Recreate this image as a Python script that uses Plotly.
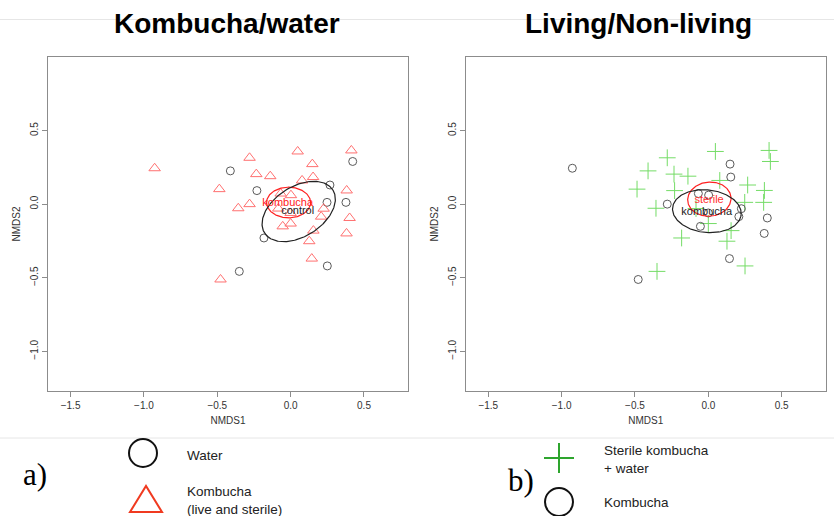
import numpy as np
import plotly.graph_objects as go

# ---------------- data (NMDS coordinates) ----------------
water_x = [-0.411, 0.423, 0.268, -0.23, 0.248, 0.377, -0.182, -0.35, 0.25]
water_y = [0.226, 0.29, 0.13, 0.092, 0.012, 0.012, -0.23, -0.457, -0.42]

sterile_x = [-0.28, 0.048, 0.414, -0.234, -0.139, 0.078, -0.486, 0.382, -0.357, -0.084, 0.0, 0.155, 0.127]
sterile_y = [0.315, 0.358, 0.365, 0.204, 0.19, 0.161, 0.102, 0.093, -0.028, -0.03, -0.132, -0.18, -0.252]

live_x = [-0.927, 0.148, 0.153, -0.068, 0.002, -0.28, 0.225, 0.208, 0.402, -0.054, 0.381, 0.144, -0.478, 0.0]
live_y = [0.244, 0.272, 0.184, 0.072, 0.061, 0.0, -0.031, -0.085, -0.094, -0.151, -0.199, -0.37, -0.512, -0.06]

# ellipses: centre x, centre y, semi-axis a, semi-axis b, angle (deg)
ell_a_kombucha = [-0.014, 0.011, 0.15, 0.104, 0]
ell_a_control = [0.055, -0.05, 0.275, 0.17, 32]
ell_b_sterile = [0.007, 0.034, 0.148, 0.116, 5]
ell_b_kombucha = [-0.01, -0.048, 0.235, 0.145, -6]

x_ticks = [-1.5, -1.0, -0.5, 0.0, 0.5]
y_ticks = [-1.0, -0.5, 0.0, 0.5]
x_range = [-1.654, 0.80]
y_range = [-1.27, 1.0]

titles = ["Kombucha/water", "Living/Non-living"]

W, H = 834, 516
FONT = "Liberation Sans, Arial, sans-serif"


def ellipse(params, n=200):
    cx, cy, a, b, ang = params
    t = np.linspace(0, 2 * np.pi, n)
    th = np.deg2rad(ang)
    x = cx + a * np.cos(t) * np.cos(th) - b * np.sin(t) * np.sin(th)
    y = cy + a * np.cos(t) * np.sin(th) + b * np.sin(t) * np.cos(th)
    return x, y


fig = go.Figure()

circ_col = "#5a5a5a"
tri_col = "#ff7070"
plus_col = "#74dc66"

# ---- panel a ----
fig.add_trace(go.Scatter(x=water_x, y=water_y, mode="markers", xaxis="x", yaxis="y",
                         marker=dict(symbol="circle-open", size=8, color=circ_col, line=dict(width=1))))
fig.add_trace(go.Scatter(x=sterile_x + live_x, y=sterile_y + live_y, mode="markers", xaxis="x", yaxis="y",
                         marker=dict(symbol="triangle-up-open", size=10, color=tri_col, line=dict(width=1))))
ex, ey = ellipse(ell_a_kombucha)
fig.add_trace(go.Scatter(x=ex, y=ey, mode="lines", line=dict(color="#ff2020", width=1.2), xaxis="x", yaxis="y"))
ex, ey = ellipse(ell_a_control)
fig.add_trace(go.Scatter(x=ex, y=ey, mode="lines", line=dict(color="#222222", width=1.2), xaxis="x", yaxis="y"))
fig.add_trace(go.Scatter(x=[ell_a_kombucha[0] - 0.006], y=[ell_a_kombucha[1] - 0.004], mode="text", text=["kombucha"],
                         textfont=dict(color="#ff2020", size=11, family=FONT), xaxis="x", yaxis="y"))
fig.add_trace(go.Scatter(x=[ell_a_control[0] - 0.007], y=[ell_a_control[1] + 0.005], mode="text", text=["control"],
                         textfont=dict(color="#222222", size=11, family=FONT), xaxis="x", yaxis="y"))

# ---- panel b ----
fig.add_trace(go.Scatter(x=water_x + sterile_x, y=water_y + sterile_y, mode="markers", xaxis="x2", yaxis="y2",
                         marker=dict(symbol="cross-thin-open", size=12, color=plus_col, line=dict(width=1, color=plus_col))))
fig.add_trace(go.Scatter(x=live_x, y=live_y, mode="markers", xaxis="x2", yaxis="y2",
                         marker=dict(symbol="circle-open", size=8, color=circ_col, line=dict(width=1))))
ex, ey = ellipse(ell_b_sterile)
fig.add_trace(go.Scatter(x=ex, y=ey, mode="lines", line=dict(color="#ff2020", width=1.2), xaxis="x2", yaxis="y2"))
ex, ey = ellipse(ell_b_kombucha)
fig.add_trace(go.Scatter(x=ex, y=ey, mode="lines", line=dict(color="#222222", width=1.2), xaxis="x2", yaxis="y2"))
fig.add_trace(go.Scatter(x=[ell_b_sterile[0] - 0.002], y=[ell_b_sterile[1] - 0.007], mode="text", text=["sterile"],
                         textfont=dict(color="#ff3030", size=11, family=FONT), xaxis="x2", yaxis="y2"))
fig.add_trace(go.Scatter(x=[ell_b_kombucha[0] - 0.001], y=[ell_b_kombucha[1] - 0.006], mode="text", text=["kombucha"],
                         textfont=dict(color="#222222", size=11, family=FONT), xaxis="x2", yaxis="y2"))


def xaxis_cfg(domain, anchor):
    return dict(domain=domain, anchor=anchor, range=x_range, tickvals=x_ticks,
                ticktext=["\u22121.5", "\u22121.0", "\u22120.5", "0.0", "0.5"],
                showgrid=False, zeroline=False, showline=True, mirror=True,
                linecolor="#8c8c8c", linewidth=1, ticks="outside", ticklen=5, tickcolor="#8c8c8c",
                tickfont=dict(size=10, color="#333", family=FONT),
                title=dict(text="NMDS1", font=dict(size=10, color="#333", family=FONT), standoff=6))


def yaxis_cfg(domain, anchor):
    return dict(domain=domain, anchor=anchor, range=y_range, tickvals=y_ticks,
                ticktext=["\u22121.0", "\u22120.5", "0.0", "0.5"], tickangle=-90,
                showgrid=False, zeroline=False, showline=True, mirror=True,
                linecolor="#8c8c8c", linewidth=1, ticks="outside", ticklen=5, tickcolor="#8c8c8c",
                tickfont=dict(size=10, color="#333", family=FONT),
                title=dict(text="NMDS2", font=dict(size=10, color="#333", family=FONT), standoff=6))


yd = [1 - 391 / H, 1 - 57 / H]
fig.update_layout(
    width=W, height=H, margin=dict(l=0, r=0, t=0, b=0),
    paper_bgcolor="white", plot_bgcolor="white", showlegend=False,
    xaxis=xaxis_cfg([48 / W, 408 / W], "y"),
    yaxis=yaxis_cfg(yd, "x"),
    xaxis2=xaxis_cfg([465.7 / W, 825.7 / W], "y2"),
    yaxis2=yaxis_cfg(yd, "x2"),
)


def px(x):
    return x / W


def py(y):
    return 1 - y / H


shapes = []
# faint separator lines
for yy in (19.5, 438):
    shapes.append(dict(type="line", xref="paper", yref="paper", x0=0, x1=1, y0=py(yy), y1=py(yy),
                       line=dict(color="#e6e6e6", width=1)))
# legend symbols
for cx, cy in ((143, 453), (559, 502)):
    shapes.append(dict(type="circle", xref="paper", yref="paper",
                       x0=px(cx - 14), x1=px(cx + 14), y0=py(cy + 14), y1=py(cy - 14),
                       line=dict(color="#111", width=2)))
tx, apex, base = 146, 486, 512
shapes.append(dict(type="path", xref="paper", yref="paper",
                   path=f"M {px(tx-16)} {py(base)} L {px(tx+16)} {py(base)} L {px(tx)} {py(apex)} Z",
                   line=dict(color="#f03a20", width=2)))
pcx, pcy = 559, 458
shapes.append(dict(type="line", xref="paper", yref="paper", x0=px(pcx - 15), x1=px(pcx + 15), y0=py(pcy), y1=py(pcy),
                   line=dict(color="#2ea52e", width=2)))
shapes.append(dict(type="line", xref="paper", yref="paper", x0=px(pcx), x1=px(pcx), y0=py(pcy - 15), y1=py(pcy + 15),
                   line=dict(color="#2ea52e", width=2)))

annotations = []
for tx_, txt in ((227, titles[0]), (638, titles[1])):
    annotations.append(dict(x=px(tx_), y=py(24), xref="paper", yref="paper", text=f"<b>{txt}</b>",
                            showarrow=False, font=dict(size=28, color="#000", family=FONT),
                            xanchor="center", yanchor="middle"))
leg_texts = [
    (185, 455, "Water"),
    (185, 500, "Kombucha<br>(live and sterile)"),
    (602, 459, "Sterile kombucha<br>+ water"),
    (602, 502, "Kombucha"),
]
for lx, ly, t in leg_texts:
    annotations.append(dict(x=px(lx), y=py(ly), xref="paper", yref="paper", text=t, showarrow=False,
                            align="left", xanchor="left", yanchor="middle",
                            font=dict(size=13.5, color="#222", family=FONT)))
for lx, ly, t in ((35, 474, "a)"), (521, 480, "b)")):
    annotations.append(dict(x=px(lx), y=py(ly), xref="paper", yref="paper", text=t, showarrow=False,
                            xanchor="center", yanchor="middle",
                            font=dict(size=31, color="#000", family="Liberation Serif, Times New Roman, serif")))

fig.update_layout(shapes=shapes, annotations=annotations)
fig.write_html("out.html")
